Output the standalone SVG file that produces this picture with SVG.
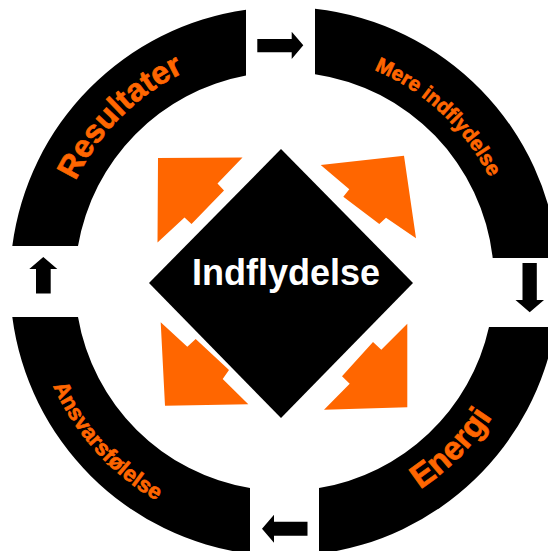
<svg xmlns="http://www.w3.org/2000/svg" width="548" height="551" viewBox="0 0 548 551">
<style>
.seg{fill:#000}
.lbl{font-family:"Liberation Sans",Arial,sans-serif;font-weight:bold;fill:#FF6600;stroke:#FF6600;stroke-width:0.7}
.orange{fill:#FF6600}
.arrow{fill:#000}
.center{font-family:"Liberation Sans",Arial,sans-serif;font-weight:bold;fill:#fff}
</style>
<defs>
<path id="pRes" d="M53.4,301.7 A232,232 0 0 1 304.7,50.4"/>
<path id="pMere" d="M256.5,53.3 A230,230 0 0 1 514.2,293.5"/>
<path id="pEn" d="M262.9,528.6 A248,248 0 0 0 531.6,259.9"/>
<path id="pAns" d="M33,246.1 A254,254 0 0 0 293.4,535.3"/>
</defs>
<rect width="548" height="551" fill="#fff"/>
<g id="resultater">
<path class="seg" d="M12.3,246 A274.5,274.5 0 0 1 246,9.7 L246,75.6 A209.5,209.5 0 0 0 78,246 Z"/>
<text class="lbl" font-size="32" text-anchor="middle"><textPath href="#pRes" startOffset="50%">Resultater</textPath></text>
</g>
<g id="mere-indflydelse">
<path class="seg" d="M315,8.7 A274.5,274.5 0 0 1 558,258 L492.7,258 A209.5,209.5 0 0 0 315,74.2 Z"/>
<text class="lbl" font-size="20.5" text-anchor="middle"><textPath href="#pMere" startOffset="50%">Mere indflydelse</textPath></text>
</g>
<g id="energi">
<path class="seg" d="M555.2,327 A274.5,274.5 0 0 1 319,553.8 L319,488.1 A209.5,209.5 0 0 0 489,327 Z"/>
<text class="lbl" font-size="33" text-anchor="middle"><textPath href="#pEn" startOffset="50%">Energi</textPath></text>
</g>
<g id="ansvarsfoelelse">
<path class="seg" d="M250,553.8 A274.5,274.5 0 0 1 12.3,317 L78,317 A209.5,209.5 0 0 0 250,488.1 Z"/>
<text class="lbl" font-size="22" text-anchor="middle"><textPath href="#pAns" startOffset="50%">Ansvarsfølelse</textPath></text>
</g>
<g id="indflydelse">
<polygon fill="#000" points="281,149 413,283 281,418 149,283"/>
<text class="center" x="286" y="285" font-size="36" text-anchor="middle">Indflydelse</text>
</g>
<g id="orange-arrows">
<polygon class="orange" points="158,158 242.5,157.5 217.5,183.5 224,190.5 191.5,224 184.5,217.5 157.5,242.5"/>
<polygon class="orange" points="404,155.7 320.7,165 349.3,189.3 343.3,196.7 379.3,224 386,217.7 416,238.3"/>
<polygon class="orange" points="160.7,322.3 187.3,346.7 195.7,339 229,370 222.7,379 248.3,404.3 165,405.7"/>
<polygon class="orange" points="407.3,323.7 381.3,349.7 373,342 342,376.3 349.7,383.7 324,409.7 407.3,407.3"/>
</g>
<g id="connectors">
<polygon class="arrow" points="257.3,39 291.7,39 291.7,31.7 303.3,45.3 291.7,59 291.7,52.3 257.3,52.3"/>
<polygon class="arrow" points="522.5,263 536.8,263 536.8,300 544,300 529.7,312.3 515.5,300 522.5,300"/>
<polygon class="arrow" points="307.5,521.7 307.5,535.7 274,535.7 274,542.7 262,528.7 274,514.7 274,521.7"/>
<polygon class="arrow" points="36,293.5 50.7,293.5 50.7,269 57.3,269 43.3,257 29.3,269 36,269"/>
</g>
</svg>
